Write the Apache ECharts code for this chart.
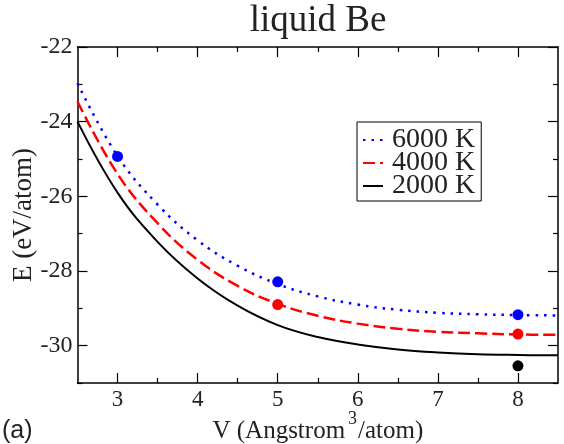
<!DOCTYPE html>
<html>
<head>
<meta charset="utf-8">
<script src="https://cdn.jsdelivr.net/npm/echarts@6/dist/echarts.min.js"></script>
<style>html,body{margin:0;padding:0;background:#fff}#c{width:564px;height:444px}</style>
</head>
<body>
<div id="c"></div>
<script>
// ---- data ----
const volumes = [2.5, 3, 3.5, 4, 4.5, 5, 5.5, 6, 6.5, 7, 7.5, 8, 8.5];
const fit6000 = [-22.97, -24.92, -26.22, -27.18, -27.86, -28.35, -28.68, -28.90, -29.04, -29.12, -29.16, -29.18, -29.19];
const fit4000 = [-23.46, -25.40, -26.72, -27.70, -28.40, -28.88, -29.20, -29.41, -29.55, -29.63, -29.67, -29.70, -29.71];
const fit2000 = [-24.00, -25.90, -27.22, -28.20, -28.93, -29.45, -29.77, -29.97, -30.10, -30.18, -30.23, -30.25, -30.26];
const simV6000 = [3, 5, 8];
const simE6000 = [-24.93, -28.29, -29.17];
const simV4000 = [5, 8];
const simE4000 = [-28.90, -29.69];
const simV2000 = [8];
const simE2000 = [-30.54];
const xMajor = [3, 4, 5, 6, 7, 8];
const xMinor = [3.5, 4.5, 5.5, 6.5, 7.5];
const yMajor = [-30, -28, -26, -24, -22];
const yMinor = [-31, -29, -27, -25, -23];
const legendNames = ['6000 K', '4000 K', '2000 K'];

const pairs = (xs, ys) => xs.map((x, i) => [x, ys[i]]);
const SERIF = 'Liberation Serif';
const lineC = '#000';

function xAx(pos, ticks, len, showLine, labels) {
  return {
    type: 'value', position: pos, min: 2.5, max: 8.5,
    axisLine: { show: showLine, lineStyle: { color: lineC, width: 1.5 } },
    axisTick: { show: true, inside: true, length: len, customValues: ticks, lineStyle: { color: lineC, width: 1.2 } },
    axisLabel: labels ? { show: true, customValues: ticks, margin: 5, color: '#222', fontFamily: SERIF, fontSize: 23 } : { show: false },
    splitLine: { show: false }
  };
}
function yAx(pos, ticks, len, showLine, labels) {
  return {
    type: 'value', position: pos, min: -31, max: -22,
    axisLine: { show: showLine, lineStyle: { color: lineC, width: 1.5 } },
    axisTick: { show: true, inside: true, length: len, customValues: ticks, lineStyle: { color: lineC, width: 1.2 } },
    axisLabel: labels ? { show: true, customValues: ticks, margin: 5, color: '#222', fontFamily: SERIF, fontSize: 24 } : { show: false },
    splitLine: { show: false }
  };
}

const xAxes = [
  xAx('bottom', xMajor, 10, true, true),
  xAx('bottom', xMinor, 5, false, false),
  xAx('top', xMajor, 10, true, false),
  xAx('top', xMinor, 5, false, false)
];
xAxes[0].name = '{h| }{a|V (Angstrom}{s|3}{a|/atom)}';
xAxes[0].nameLocation = 'middle';
xAxes[0].nameGap = 27;
xAxes[0].nameMoveOverlap = false;
xAxes[0].nameTextStyle = {
  rich: {
    h: { fontSize: 1, lineHeight: 34 },
    a: { fontFamily: SERIF, fontSize: 25, color: '#222', lineHeight: 28, verticalAlign: 'bottom' },
    s: { fontFamily: SERIF, fontSize: 18, color: '#222', lineHeight: 18, verticalAlign: 'top', padding: [0, 1, 0, 3] }
  }
};
const yAxes = [
  yAx('left', yMajor, 10, true, true),
  yAx('left', yMinor, 5, false, false),
  yAx('right', yMajor, 10, true, false),
  yAx('right', yMinor, 5, false, false)
];
yAxes[0].name = 'E (eV/atom)';
yAxes[0].nameLocation = 'middle';
yAxes[0].nameGap = 40;
yAxes[0].nameMoveOverlap = false;
yAxes[0].nameTextStyle = { fontFamily: SERIF, fontSize: 27, color: '#222' };

const chart = echarts.init(document.getElementById('c'), null, { renderer: 'canvas' });
chart.setOption({
  animation: false,
  backgroundColor: '#fff',
  title: {
    text: 'liquid Be', left: 313, top: -2, textAlign: 'center',
    textStyle: { fontFamily: SERIF, fontSize: 37, fontWeight: 'normal', color: '#222' }
  },
  grid: { left: 77.5, right: 6, top: 47, bottom: 61, containLabel: false, outerBoundsMode: 'none' },
  xAxis: xAxes,
  yAxis: yAxes,
  legend: {
    data: legendNames,
    orient: 'vertical', left: 357, top: 122,
    borderColor: '#000', borderWidth: 1, padding: [4, 6, 1, 5],
    itemWidth: 20, itemHeight: 12, itemGap: -5,
    itemStyle: { opacity: 0 },
    textStyle: { fontFamily: SERIF, fontSize: 28, color: '#222', padding: [0, 0, 0, 4] }
  },
  graphic: [{
    type: 'text', left: 2, top: 419,
    style: { text: '(a)', font: '25px "Liberation Sans"', fill: '#222' }
  }],
  series: [
    { name: '6000 K', type: 'line', smooth: 0.4, symbol: 'none', data: pairs(volumes, fit6000),
      lineStyle: { color: '#0000ff', width: 2.5, type: [2.5, 6] }, itemStyle: { color: '#0000ff' } },
    { name: '4000 K', type: 'line', smooth: 0.4, symbol: 'none', data: pairs(volumes, fit4000),
      lineStyle: { color: '#ff0000', width: 2.5, type: [12, 5] }, itemStyle: { color: '#ff0000' } },
    { name: '2000 K', type: 'line', smooth: 0.4, symbol: 'none', data: pairs(volumes, fit2000),
      lineStyle: { color: '#000000', width: 2 }, itemStyle: { color: '#000000' } },
    { name: 'sim6000', type: 'scatter', symbolSize: 11, data: pairs(simV6000, simE6000), itemStyle: { color: '#0000ff', opacity: 1 } },
    { name: 'sim4000', type: 'scatter', symbolSize: 11, data: pairs(simV4000, simE4000), itemStyle: { color: '#ff0000', opacity: 1 } },
    { name: 'sim2000', type: 'scatter', symbolSize: 11, data: pairs(simV2000, simE2000), itemStyle: { color: '#000000', opacity: 1 } }
  ]
});
</script>
</body>
</html>
